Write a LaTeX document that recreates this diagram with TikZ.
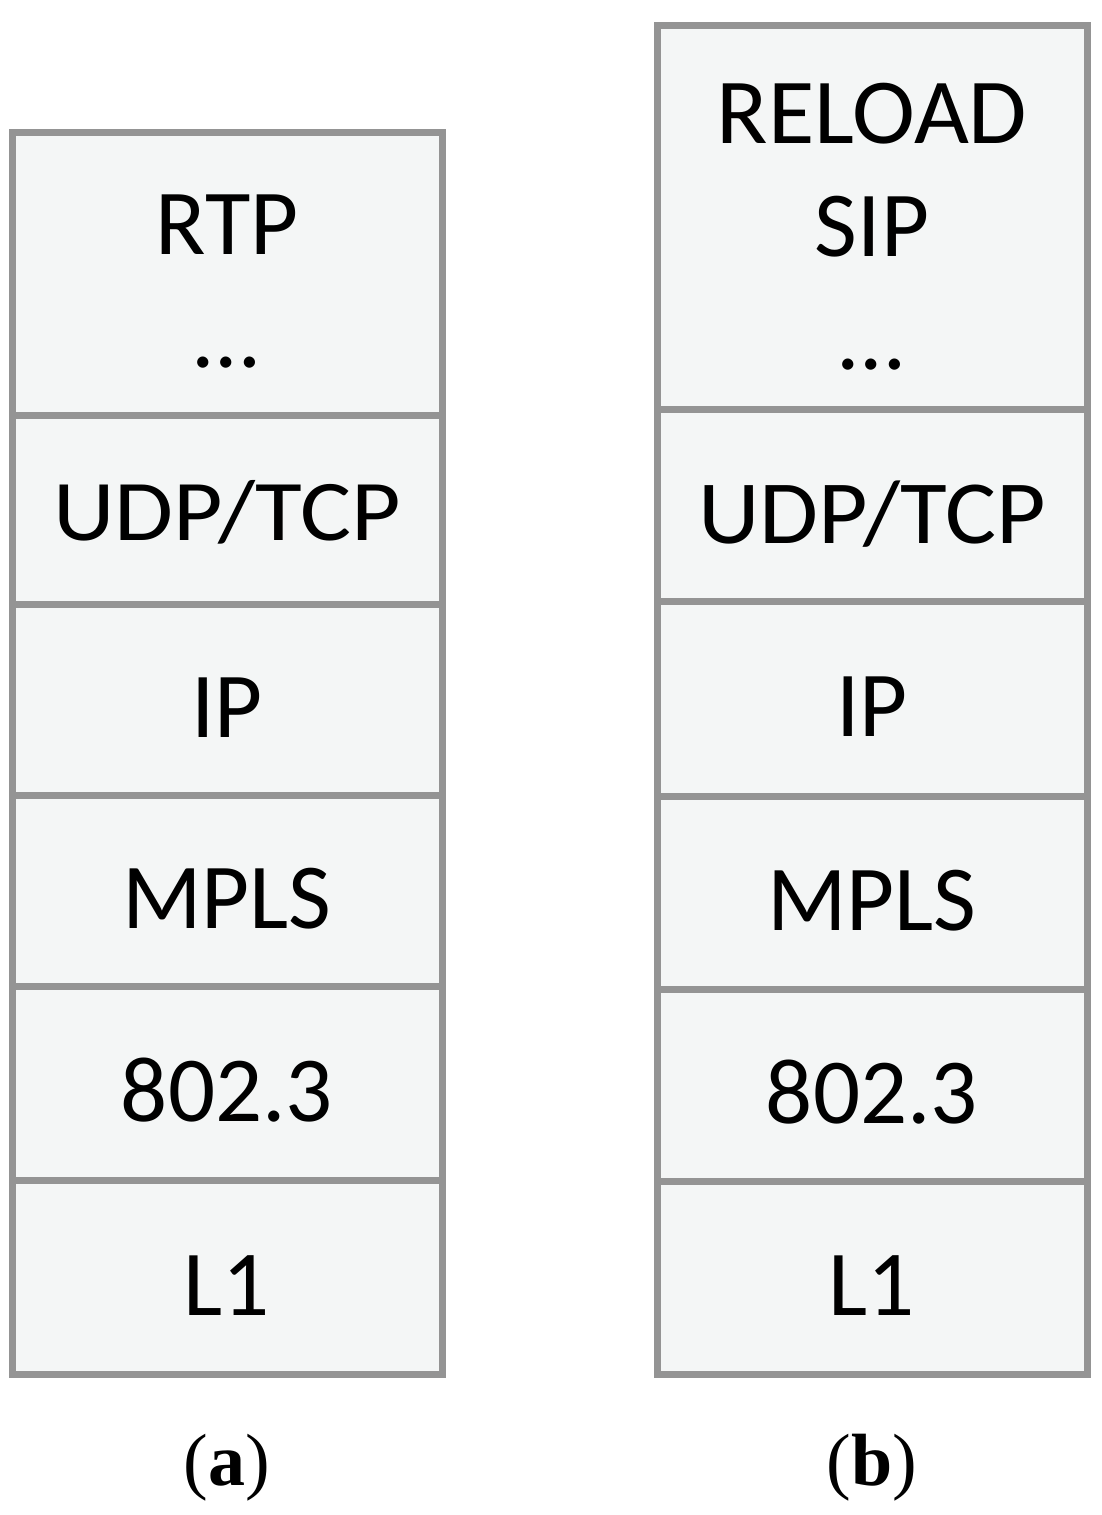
\documentclass[tikz,border=0pt]{standalone}
\usepackage{graphicx}
\usepackage{fontspec}
\setmainfont{Carlito}
\newfontfamily\capfont{Liberation Serif}
\usepackage{xcolor}
\definecolor{layerfill}{RGB}{244,246,246}
\definecolor{layerline}{RGB}{148,148,148}

\begin{document}
\begin{tikzpicture}[x=1pt,y=-1pt,
		layer/.style={rectangle,
			draw=layerline,
			fill=layerfill,
			line width=7pt,
			outer sep=0pt,
			inner sep=0pt,
			minimum width=430pt,
			anchor=north,
			align=center,
			text height=76pt,  % baseline a bit below the middle
			text depth=0pt,
			font=\fontsize{93}{113}\selectfont},
		caption/.style={font=\capfont\fontsize{74}{80}\selectfont}]
	\useasboundingbox (0,0) rectangle (1101,1515);

	% stack (a)
	\node[layer, minimum height=283pt, text height=187pt] (appA) at (227,132) {RTP\\…};
	\node[layer, minimum height=189pt, text height=61pt] (tlA) at (227,415) {\scalebox{1.03}[0.93]{UDP/TCP}};
	\node[layer, minimum height=191pt] (ipA) at (227,604) {IP};
	\node[layer, minimum height=191pt] (mplsA) at (227,795) {MPLS};
	\node[layer, minimum height=194pt] (macA) at (227,986) {802.3};
	\node[layer, minimum height=194pt] (phyA) at (227,1180) {L1};
	\node[caption] (capA) at (227,1468) {(\textbf{a})};

	% stack (b)
	\node[layer, minimum height=384pt, text height=304pt] (appB) at (872,25) {\scalebox{1.02}[1]{RELOAD}\\SIP\\…};
	\node[layer, minimum height=192pt] (tlB) at (872,409) {\scalebox{1.03}[0.97]{UDP/TCP}};
	\node[layer, minimum height=195pt] (ipB) at (872,601) {IP};
	\node[layer, minimum height=193pt] (mplsB) at (872,796) {MPLS};
	\node[layer, minimum height=192pt] (macB) at (872,989) {802.3};
	\node[layer, minimum height=193pt] (phyB) at (872,1181) {L1};
	\node[caption] (capB) at (872,1468) {(\textbf{b})};
\end{tikzpicture}
\end{document}
